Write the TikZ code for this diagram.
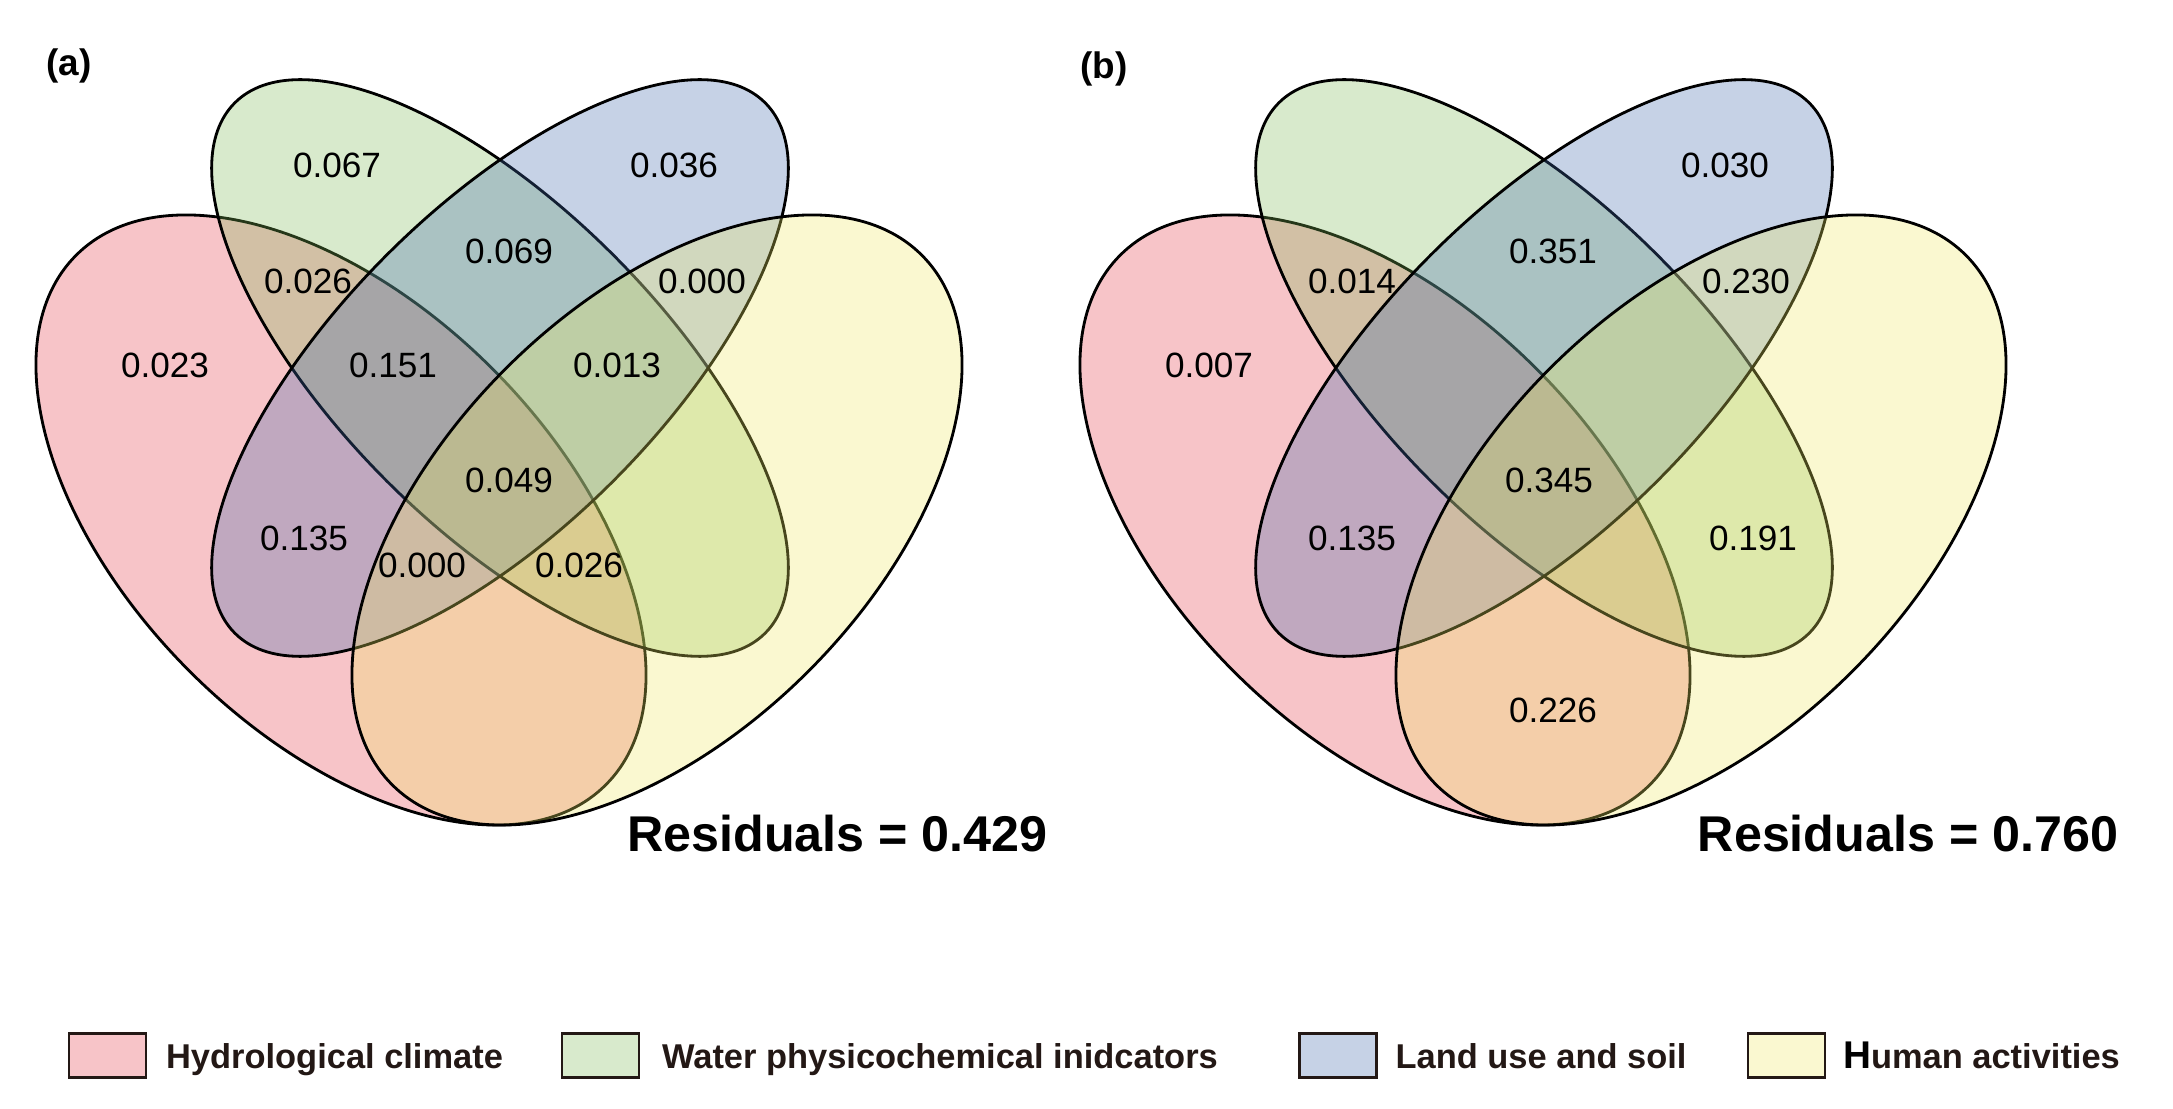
\documentclass[tikz,border=0pt]{standalone}
\usepackage{fontspec}
\setmainfont{Liberation Sans}
\usetikzlibrary{positioning}

\definecolor{hydcol}{HTML}{E43A48}
\definecolor{watcol}{HTML}{7DB955}
\definecolor{landcol}{HTML}{4169AC}
\definecolor{humcol}{HTML}{EEE862}
\definecolor{legtxt}{HTML}{231815}

\tikzset{
	setline/.style={draw=black, line width=0.8pt, fill opacity=0.3},
	val/.style={font=\fontsize{10}{12}\selectfont, inner sep=0pt},
	resid/.style={font=\fontsize{14.3}{17}\selectfont\bfseries, inner sep=0pt},
	tag/.style={font=\fontsize{10.5}{12}\selectfont\bfseries, inner sep=0pt},
	legbox/.style={draw=legtxt, line width=0.8pt, minimum width=0.77cm, minimum height=0.44cm, inner sep=0pt},
	legtext/.style={font=\fontsize{9.8}{12}\selectfont\bfseries, text=legtxt, inner sep=0pt, text height=9pt, text depth=1.34pt},
}

\begin{document}
\begin{tikzpicture}
	\useasboundingbox (0,0) rectangle (21.73,11.08);

	% panel (a)
	\begin{scope}
		\path[setline, fill=hydcol, rotate around={-45:(3.41,5.88)}] (3.41,5.88) ellipse [x radius=3.745, y radius=2.14];
		\path[setline, fill=watcol, rotate around={-45:(5.00,7.40)}] (5.00,7.40) ellipse [x radius=3.75, y radius=1.60];
		\path[setline, fill=landcol, rotate around={45:(5.00,7.40)}] (5.00,7.40) ellipse [x radius=3.75, y radius=1.60];
		\path[setline, fill=humcol, rotate around={45:(6.57,5.88)}] (6.57,5.88) ellipse [x radius=3.745, y radius=2.14];
	\end{scope}

	\node[tag] (a-tag) at (0.69,10.42) {(a)};
	\node[val] (a-W) at (3.37,9.43) {0.067};
	\node[val] (a-L) at (6.74,9.43) {0.036};
	\node[val] (a-WL) at (5.09,8.57) {0.069};
	\node[val] (a-HW) at (3.08,8.27) {0.026};
	\node[val] (a-LU) at (7.02,8.27) {0.000};
	\node[val] (a-H) at (1.65,7.43) {0.023};
	\node[val] (a-HWL) at (3.93,7.43) {0.151};
	\node[val] (a-WLU) at (6.17,7.43) {0.013};
	\node[val] (a-HWLU) at (5.09,6.28) {0.049};
	\node[val] (a-HL) at (3.04,5.70) {0.135};
	\node[val] (a-HLU) at (4.22,5.43) {0.000};
	\node[val] (a-HWU) at (5.79,5.43) {0.026};
	\node[resid] (a-res) at (8.375,2.74) {Residuals = 0.429};

	% panel (b)
	\begin{scope}[xshift=10.44cm]
		\path[setline, fill=hydcol, rotate around={-45:(3.41,5.88)}] (3.41,5.88) ellipse [x radius=3.745, y radius=2.14];
		\path[setline, fill=watcol, rotate around={-45:(5.00,7.40)}] (5.00,7.40) ellipse [x radius=3.75, y radius=1.60];
		\path[setline, fill=landcol, rotate around={45:(5.00,7.40)}] (5.00,7.40) ellipse [x radius=3.75, y radius=1.60];
		\path[setline, fill=humcol, rotate around={45:(6.57,5.88)}] (6.57,5.88) ellipse [x radius=3.745, y radius=2.14];

		\node[tag] (b-tag) at (0.60,10.39) {(b)};
		\node[val] (b-L) at (6.81,9.43) {0.030};
		\node[val] (b-WL) at (5.09,8.57) {0.351};
		\node[val] (b-HW) at (3.08,8.27) {0.014};
		\node[val] (b-LU) at (7.02,8.27) {0.230};
		\node[val] (b-H) at (1.65,7.43) {0.007};
		\node[val] (b-HWLU) at (5.05,6.28) {0.345};
		\node[val] (b-HL) at (3.08,5.70) {0.135};
		\node[val] (b-WU) at (7.09,5.70) {0.191};
		\node[val] (b-HU) at (5.09,3.98) {0.226};
		\node[resid] (b-res) at (8.64,2.74) {Residuals = 0.760};
	\end{scope}

	% legend
	\node[legbox, fill=hydcol!30] (hydbox) at (1.075,0.525) {};
	\node[legtext] (hydtxt) [right=0.18cm of hydbox] {Hydrological climate};
	\node[legbox, fill=watcol!30] (watbox) at (6.005,0.525) {};
	\node[legtext] (wattxt) [right=0.21cm of watbox] {Water physicochemical inidcators};
	\node[legbox, fill=landcol!30] (landbox) at (13.38,0.525) {};
	\node[legtext] (landtxt) [right=0.17cm of landbox] {Land use and soil};
	\node[legbox, fill=humcol!30] (humbox) at (17.865,0.525) {};
	\node[legtext] (humtxt) [right=0.16cm of humbox] {{\color{black}\fontsize{11}{12}\selectfont H}uman activities};

\end{tikzpicture}
\end{document}
